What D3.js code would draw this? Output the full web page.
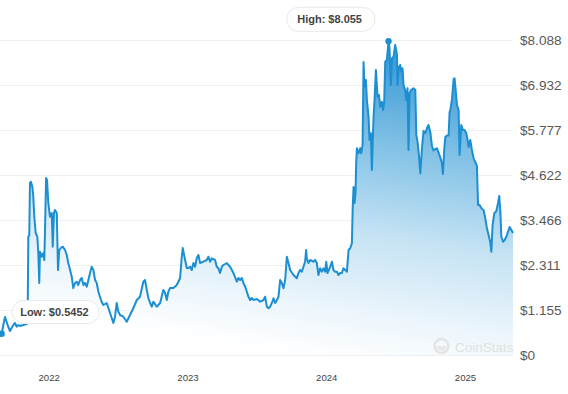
<!DOCTYPE html>
<html>
<head>
<meta charset="utf-8">
<script src="https://cdn.jsdelivr.net/npm/d3@7"></script>
<style>
  html, body { margin: 0; padding: 0; background: #fff; }
  svg { display: block; font-family: "Liberation Sans", Arial, Helvetica, sans-serif; }
</style>
</head>
<body>
<svg id="chart" width="568" height="394"></svg>
<script>
// Decimal-year timestamps of the sampled points
const times = [
  2021.649, 2021.661, 2021.673, 2021.685, 2021.697, 2021.709, 2021.721, 2021.733, 2021.745, 2021.757,
  2021.769, 2021.781, 2021.793, 2021.817, 2021.841, 2021.848, 2021.853, 2021.860, 2021.865, 2021.872,
  2021.882, 2021.889, 2021.896, 2021.906, 2021.918, 2021.925, 2021.932, 2021.937, 2021.950, 2021.961,
  2021.968, 2021.973, 2021.981, 2021.988, 2021.997, 2022.009, 2022.022, 2022.029, 2022.038, 2022.045,
  2022.058, 2022.067, 2022.076, 2022.087, 2022.101, 2022.118, 2022.130, 2022.141, 2022.154, 2022.166,
  2022.177, 2022.190, 2022.202, 2022.213, 2022.226, 2022.238, 2022.250, 2022.262, 2022.274, 2022.286,
  2022.298, 2022.310, 2022.322, 2022.334, 2022.346, 2022.358, 2022.370, 2022.382, 2022.394, 2022.418,
  2022.442, 2022.466, 2022.478, 2022.490, 2022.502, 2022.514, 2022.538, 2022.562, 2022.586, 2022.610,
  2022.635, 2022.658, 2022.682, 2022.694, 2022.707, 2022.718, 2022.731, 2022.743, 2022.754, 2022.779,
  2022.803, 2022.826, 2022.839, 2022.851, 2022.862, 2022.875, 2022.899, 2022.923, 2022.947, 2022.959,
  2022.966, 2022.983, 2022.995, 2023.007, 2023.019, 2023.031, 2023.043, 2023.055, 2023.067, 2023.079,
  2023.091, 2023.115, 2023.139, 2023.151, 2023.163, 2023.175, 2023.199, 2023.211, 2023.223, 2023.235,
  2023.248, 2023.259, 2023.284, 2023.295, 2023.307, 2023.320, 2023.331, 2023.356, 2023.367, 2023.380,
  2023.392, 2023.403, 2023.416, 2023.428, 2023.439, 2023.452, 2023.464, 2023.475, 2023.500, 2023.524,
  2023.548, 2023.560, 2023.572, 2023.584, 2023.596, 2023.608, 2023.620, 2023.632, 2023.644, 2023.656,
  2023.668, 2023.680, 2023.692, 2023.704, 2023.716, 2023.728, 2023.740, 2023.764, 2023.788, 2023.800,
  2023.812, 2023.824, 2023.836, 2023.848, 2023.855, 2023.860, 2023.872, 2023.884, 2023.908, 2023.920,
  2023.932, 2023.944, 2023.956, 2023.969, 2023.980, 2023.993, 2024.000, 2024.009, 2024.029, 2024.041,
  2024.052, 2024.064, 2024.077, 2024.088, 2024.101, 2024.113, 2024.124, 2024.137, 2024.149, 2024.161,
  2024.173, 2024.185, 2024.191, 2024.197, 2024.204, 2024.211, 2024.216, 2024.221, 2024.233, 2024.245,
  2024.252, 2024.262, 2024.269, 2024.276, 2024.286, 2024.293, 2024.305, 2024.312, 2024.322, 2024.329,
  2024.341, 2024.348, 2024.358, 2024.370, 2024.380, 2024.389, 2024.401, 2024.409, 2024.418, 2024.425,
  2024.437, 2024.449, 2024.456, 2024.466, 2024.474, 2024.485, 2024.497, 2024.510, 2024.514, 2024.521,
  2024.533, 2024.541, 2024.550, 2024.557, 2024.569, 2024.577, 2024.586, 2024.593, 2024.600, 2024.611,
  2024.629, 2024.642, 2024.649, 2024.658, 2024.668, 2024.678, 2024.690, 2024.701, 2024.714, 2024.726,
  2024.737, 2024.750, 2024.762, 2024.773, 2024.786, 2024.798, 2024.810, 2024.822, 2024.834, 2024.841,
  2024.851, 2024.858, 2024.870, 2024.882, 2024.889, 2024.894, 2024.906, 2024.918, 2024.925, 2024.935,
  2024.942, 2024.954, 2024.961, 2024.973, 2024.986, 2024.997, 2025.009, 2025.019, 2025.026, 2025.038,
  2025.050, 2025.062, 2025.074, 2025.086, 2025.094, 2025.105, 2025.122, 2025.134, 2025.146, 2025.158,
  2025.170, 2025.182, 2025.190, 2025.199, 2025.211, 2025.226, 2025.238, 2025.247, 2025.255, 2025.262,
  2025.274, 2025.286, 2025.298, 2025.307, 2025.322, 2025.334, 2025.346
];
// Price in USD at each timestamp
const prices = [
  0.591, 0.5452, 0.770, 0.976, 0.847, 0.719, 0.616, 0.693, 0.770, 0.822,
  0.727, 0.770, 0.745, 0.770, 0.796, 0.822, 3.030, 3.081, 4.416, 4.450,
  4.321, 4.065, 3.551, 3.132, 3.037, 2.619, 1.849, 2.652, 2.524, 2.619,
  2.439, 3.132, 4.545, 4.493, 3.903, 3.551, 3.646, 2.781, 3.646, 3.723,
  3.646, 2.182, 2.696, 2.747, 2.781, 2.696, 2.568, 2.362, 2.182, 2.010,
  1.720, 1.849, 1.882, 1.797, 1.926, 1.977, 1.797, 1.849, 1.754, 1.926,
  2.105, 2.267, 2.182, 1.926, 1.849, 1.625, 1.489, 1.361, 1.284, 1.335,
  1.078, 0.822, 0.983, 1.335, 1.112, 1.027, 0.983, 0.855, 1.027, 1.207,
  1.412, 1.497, 1.882, 1.926, 1.669, 1.464, 1.335, 1.240, 1.369, 1.240,
  1.335, 1.669, 1.592, 1.412, 1.625, 1.720, 1.720, 1.797, 1.977, 2.524,
  2.747, 2.439, 2.234, 2.234, 2.267, 2.182, 2.362, 2.267, 2.491, 2.568,
  2.362, 2.396, 2.439, 2.524, 2.396, 2.483, 2.439, 2.267, 2.226, 2.105,
  2.267, 2.311, 2.362, 2.311, 2.267, 2.182, 2.105, 1.882, 1.977, 1.926,
  1.977, 1.849, 1.754, 1.625, 1.497, 1.412, 1.464, 1.412, 1.438, 1.369,
  1.412, 1.497, 1.240, 1.199, 1.240, 1.335, 1.456, 1.335, 1.412, 1.497,
  1.926, 1.849, 1.713, 1.926, 2.524, 2.362, 2.182, 2.054, 1.969, 2.105,
  2.182, 2.139, 2.267, 2.396, 2.696, 2.483, 2.362, 2.439, 2.396, 2.439,
  2.362, 2.054, 2.226, 2.139, 2.226, 2.139, 2.396, 2.105, 2.267, 2.396,
  2.182, 2.139, 2.139, 2.054, 2.105, 2.105, 2.226, 2.182, 2.139, 2.696,
  2.740, 2.868, 3.800, 4.314, 3.903, 4.160, 4.930, 5.307, 5.179, 5.307,
  5.179, 5.392, 7.523, 6.889, 7.061, 6.547, 6.119, 5.520, 5.692, 4.750,
  6.119, 6.547, 7.318, 6.632, 6.676, 6.375, 6.504, 6.291, 6.504, 7.531,
  7.574, 8.055, 7.883, 6.933, 7.618, 7.659, 7.960, 7.703, 6.933, 7.361,
  7.446, 7.274, 7.361, 6.933, 6.804, 6.547, 6.848, 5.264, 6.719, 6.804,
  6.848, 6.804, 5.649, 5.477, 5.135, 4.665, 5.315, 5.751, 5.700, 5.821,
  5.905, 5.726, 5.366, 5.251, 5.289, 5.307, 5.199, 5.071, 4.922, 4.647,
  5.307, 5.597, 5.636, 5.636, 6.239, 6.291, 6.547, 7.087, 7.105, 6.719,
  6.419, 6.291, 5.135, 5.905, 5.777, 5.777, 5.700, 5.520, 5.341, 5.520,
  5.264, 5.050, 4.956, 4.853, 3.851, 3.851, 3.749, 3.723, 3.518, 3.261,
  3.081, 2.901, 2.652, 3.338, 3.638, 3.697, 3.903, 4.082, 3.672, 3.037,
  2.909, 2.953, 3.037, 3.132, 3.287, 3.210, 3.132
];
const yTickValues = [0, 1.155, 2.311, 3.466, 4.622, 5.777, 6.932, 8.088];
const yTickLabels = ["$0", "$1.155", "$2.311", "$3.466", "$4.622", "$5.777", "$6.932", "$8.088"];
const xTickYears = [2022, 2023, 2024, 2025];
const lowLabel = "Low: $0.5452";
const highLabel = "High: $8.055";
const watermark = "CoinStats";

const data = times.map((t, i) => ({ t, v: prices[i] }));

const svg = d3.select("#chart");
const plotLeft = 0, plotRight = 513, plotTop = 40, plotBottom = 355;

const x = d3.scaleLinear().domain([d3.min(times), d3.max(times)]).range([plotLeft, plotRight]);
const y = d3.scaleLinear().domain([0, 8.088]).range([plotBottom, plotTop]);

// gradient
const defs = svg.append("defs");
const grad = defs.append("linearGradient")
  .attr("id", "areaGrad")
  .attr("gradientUnits", "userSpaceOnUse")
  .attr("x1", 380).attr("y1", 40).attr("x2", 330).attr("y2", 360);
grad.append("stop").attr("offset", 0).attr("stop-color", "#2f94d4");
grad.append("stop").attr("offset", 0.3).attr("stop-color", "#7dbfe5");
grad.append("stop").attr("offset", 0.6).attr("stop-color", "#c6e3f4");
grad.append("stop").attr("offset", 0.85).attr("stop-color", "#edf6fc");
grad.append("stop").attr("offset", 1).attr("stop-color", "#ffffff");

// gridlines + y labels
const yAxis = d3.axisRight(y)
  .tickValues(yTickValues)
  .tickSize(plotRight - plotLeft)
  .tickFormat((d, i) => yTickLabels[i]);
const gy = svg.append("g").attr("transform", `translate(${plotLeft},0)`).call(yAxis);
gy.select(".domain").remove();
gy.selectAll(".tick line").attr("stroke", "#efefef").attr("stroke-width", 1);
gy.selectAll(".tick text")
  .attr("x", plotRight + 7)
  .attr("dy", "0.34em")
  .attr("fill", "#595959")
  .style("font-size", "13.6px")
  .style("font-family", "'Liberation Sans', Arial, sans-serif");

// area + line
const area = d3.area().x(d => x(d.t)).y0(y(0)).y1(d => y(d.v));
const line = d3.line().x(d => x(d.t)).y(d => y(d.v));
svg.append("path").datum(data).attr("d", area).attr("fill", "url(#areaGrad)");
svg.append("path").datum(data).attr("d", line)
  .attr("fill", "none").attr("stroke", "#1b8fd2").attr("stroke-width", 2)
  .attr("stroke-linejoin", "round");

// watermark
const wm = svg.append("g").attr("opacity", 0.9);
wm.append("circle").attr("cx", 441.5).attr("cy", 346).attr("r", 7)
  .attr("fill", "none").attr("stroke", "#e2e2e2").attr("stroke-width", 2.4);
wm.append("path")
  .attr("transform", "translate(441.5,346)")
  .attr("d", d3.arc()({ innerRadius: 0, outerRadius: 5, startAngle: Math.PI * 0.5, endAngle: Math.PI * 1.5 }))
  .attr("fill", "#e8e8e8");
wm.append("text").attr("x", 455).attr("y", 351.5)
  .attr("fill", "#e0e0e0").style("font-size", "13.5px").text(watermark);

// x axis labels
const xAxis = d3.axisBottom(x).tickValues(xTickYears).tickSize(0).tickFormat(d3.format("d"));
const gx = svg.append("g").attr("transform", `translate(0,${plotBottom})`).call(xAxis);
gx.select(".domain").remove();
gx.selectAll(".tick text").attr("y", 23).attr("dy", "0.34em")
  .attr("fill", "#444").style("font-size", "9.6px")
  .style("font-family", "'Liberation Sans', Arial, sans-serif");

// low / high markers
const lowIdx = d3.minIndex(prices), highIdx = d3.maxIndex(prices);
svg.append("circle").attr("cx", x(times[lowIdx])).attr("cy", y(prices[lowIdx])).attr("r", 3.2).attr("fill", "#1b8fd2");
svg.append("circle").attr("cx", x(times[highIdx])).attr("cy", y(prices[highIdx])).attr("r", 3.2).attr("fill", "#1b8fd2");

function pill(cx, cy, w, h, label) {
  const g = svg.append("g");
  g.append("rect").attr("x", cx - w / 2).attr("y", cy - h / 2).attr("width", w).attr("height", h)
    .attr("rx", h / 2).attr("fill", "#fff").attr("stroke", "#eaeaea").attr("stroke-width", 1);
  g.append("text").attr("x", cx - 1.2).attr("y", cy).attr("dy", "0.35em").attr("text-anchor", "middle")
    .attr("fill", "#444").style("font-size", "11px").style("font-weight", "bold").text(label);
}
pill(55.6, 312, 87, 23, lowLabel);
pill(330.8, 19.3, 88.5, 24, highLabel);
</script>
</body>
</html>
